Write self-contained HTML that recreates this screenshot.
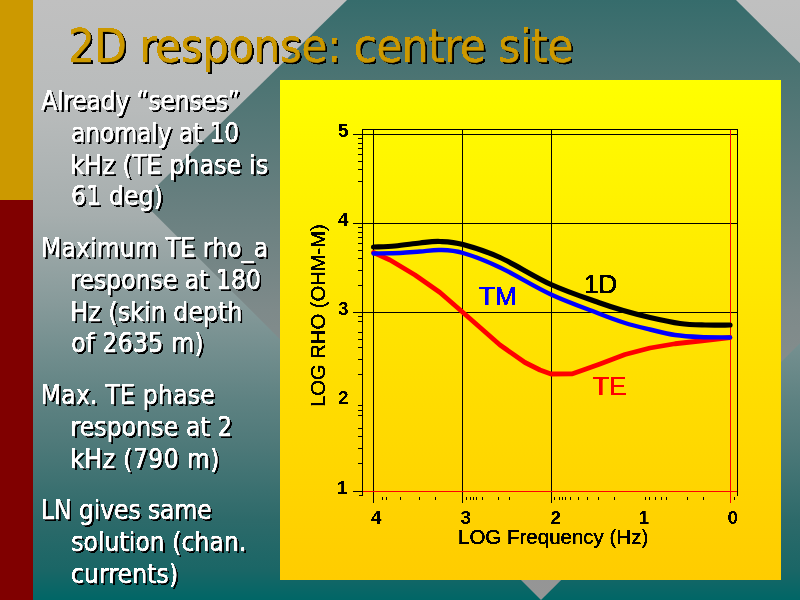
<!DOCTYPE html>
<html lang="en">
<head>
<meta charset="utf-8">
<title>2D response: centre site</title>
<style>
html,body{margin:0;padding:0;}
body{width:800px;height:600px;position:relative;overflow:hidden;background:#c0c0c0;}
#bg{position:absolute;left:33px;top:0;width:767px;height:600px;background:linear-gradient(to bottom,rgb(192,192,192) 0.00%,rgb(184,187,187) 18.33%,rgb(166,174,174) 35.83%,rgb(136,155,155) 50.00%,rgb(94,130,130) 66.67%,rgb(80,122,122) 73.33%,rgb(45,106,106) 86.67%,rgb(26,102,102) 95.00%,rgb(0,102,102) 100.00%);}
#diamond{position:absolute;left:0;top:0;width:800px;height:600px;}
#gold{position:absolute;left:0;top:0;width:33px;height:200px;background:#cc9900;}
#red{position:absolute;left:0;top:200px;width:33px;height:400px;background:#800000;}
#title{position:absolute;left:68.25px;top:17.60px;letter-spacing:-0.344px;margin:0;white-space:nowrap;font-family:"DejaVu Sans Condensed","DejaVu Sans",sans-serif;font-weight:normal;font-size:46.6px;line-height:56px;-webkit-text-stroke:0.5px #cc9900;color:#cc9900;text-shadow:2px 2px 0 #000;filter:url(#crisp);}
.ln{position:absolute;margin:0;white-space:nowrap;font-family:"DejaVu Sans Condensed","DejaVu Sans",sans-serif;font-size:26.2px;line-height:32px;height:32px;-webkit-text-stroke:0.45px #fff;color:#fff;text-shadow:2px 2px 0 #000;filter:url(#crisp);}
#chart{position:absolute;left:280px;top:80px;width:501px;height:500px;background:linear-gradient(to bottom,#ffff00 0%,#ffe300 50%,#ffcc00 100%);}
#chart svg{position:absolute;left:-280px;top:-80px;width:800px;height:600px;}
</style>
</head>
<body>
<div id="bg"></div>
<svg id="diamond" viewBox="0 0 800 600">
  <defs>
    <filter id="crisp" x="-2%" y="-10%" width="104%" height="120%" color-interpolation-filters="sRGB"><feComponentTransfer><feFuncA type="linear" slope="6" intercept="-2.5"/></feComponentTransfer></filter>
    <linearGradient id="dg" x1="0" y1="0" x2="0" y2="600" gradientUnits="userSpaceOnUse">
      <stop offset="0.0000" stop-color="rgb(54,108,108)"/>
      <stop offset="0.1333" stop-color="rgb(76,116,115)"/>
      <stop offset="0.3333" stop-color="rgb(103,127,127)"/>
      <stop offset="0.5167" stop-color="rgb(126,138,138)"/>
      <stop offset="0.7500" stop-color="rgb(141,145,145)"/>
      <stop offset="1.0000" stop-color="rgb(150,150,150)"/>
    </linearGradient>
  </defs>
  <polygon points="542.6,-191.4 941.3,203.2 541,600 141.6,201" fill="url(#dg)"/>
</svg>
<div id="gold"></div>
<div id="red"></div>

<h1 id="title">2D response: centre site</h1>

<p class="ln" id="l1" style="left:41.25px;top:85.00px;letter-spacing:-0.234px">Already “senses”</p>
<p class="ln" id="l2" style="left:71.00px;top:116.75px;letter-spacing:-0.167px">anomaly at 10</p>
<p class="ln" id="l3" style="left:70.50px;top:148.50px;letter-spacing:0.217px">kHz (TE phase is</p>
<p class="ln" id="l4" style="left:71.00px;top:180.25px;letter-spacing:0.166px">61 deg)</p>

<p class="ln" id="l5" style="left:41.00px;top:232.00px;letter-spacing:0.134px">Maximum TE rho_a</p>
<p class="ln" id="l6" style="left:70.50px;top:263.75px;letter-spacing:-0.012px">response at 180</p>
<p class="ln" id="l7" style="left:70.50px;top:295.50px;letter-spacing:0.131px">Hz (skin depth</p>
<p class="ln" id="l8" style="left:71.25px;top:327.25px;letter-spacing:0.313px">of 2635 m)</p>

<p class="ln" id="l9" style="left:40.75px;top:379.00px;letter-spacing:0.208px">Max. TE phase</p>
<p class="ln" id="l10" style="left:70.50px;top:410.75px;letter-spacing:0.104px">response at 2</p>
<p class="ln" id="l11" style="left:70.50px;top:442.50px;letter-spacing:0.400px">kHz (790 m)</p>

<p class="ln" id="l12" style="left:41.00px;top:494.25px;letter-spacing:-0.112px">LN gives same</p>
<p class="ln" id="l13" style="left:71.25px;top:526.00px;letter-spacing:0.035px">solution (chan.</p>
<p class="ln" id="l14" style="left:71.00px;top:557.75px;letter-spacing:0.094px">currents)</p>

<div id="chart">
<svg viewBox="0 0 800 600" shape-rendering="crispEdges">
  <g stroke="#000" stroke-width="1" fill="none">
    <!-- frame -->
    <path d="M362.5,496 V129.5 H737.5 V496"/>
    <!-- horizontal grid -->
    <path d="M353,134.5 H737.5 M353,223.5 H737.5 M353,312.5 H737.5 M353,491.5 H362 M359,495.5 H362.5"/>
    <!-- vertical grid -->
    <path d="M373.5,129.5 V502.5 M462.5,129.5 V502.5 M551.5,129.5 V502.5"/>
  </g>
  <g stroke="#ff0000" stroke-width="1" fill="none">
    <path d="M362.5,491.5 H737 M730.5,129.5 V502.5"/>
  </g>
  <g id="yticks" stroke="#000" stroke-width="1" fill="none"><path d="M358,138.5 H362.5 M358,143.5 H362.5 M358,148.5 H362.5 M358,154.5 H362.5 M358,161.5 H362.5 M358,169.5 H362.5 M358,181.5 H362.5 M358,227.5 H362.5 M358,232.5 H362.5 M358,237.5 H362.5 M358,243.5 H362.5 M358,250.5 H362.5 M358,258.5 H362.5 M358,270.5 H362.5 M358,285.5 H362.5 M358,316.5 H362.5 M358,321.5 H362.5 M358,332.5 H362.5 M358,339.5 H362.5 M358,347.5 H362.5 M358,359.5 H362.5 M358,374.5 H362.5 M358,405.5 H362.5 M358,410.5 H362.5 M358,415.5 H362.5 M358,428.5 H362.5 M358,436.5 H362.5 M358,448.5 H362.5 M358,463.5 H362.5"/></g>
  <g id="xticks" stroke="#000" stroke-width="1" fill="none"><path d="M382.5,497 V500 M386.5,497 V500 M400.5,497 V500 M419.5,497 V500 M435.5,497 V500 M466.5,497 V500 M470.5,497 V500 M473.5,497 V500 M476.5,497 V500 M482.5,497 V500 M498.5,497 V500 M509.5,497 V500 M554.5,497 V500 M559.5,497 V500 M562.5,497 V500 M565.5,497 V500 M570.5,497 V500 M578.5,497 V500 M587.5,497 V500 M598.5,497 V500 M614.5,497 V500 M645.5,497 V500 M649.5,497 V500 M655.5,497 V500 M661.5,497 V500 M666.5,497 V500 M687.5,497 V500 M703.5,497 V500 M734.5,497 V500"/></g>
  <g fill="none" stroke-linejoin="round" stroke-linecap="round" shape-rendering="auto">
    <path stroke="#ff0000" stroke-width="4.8" d="M373.5,252.5 L390,260 L415,275 L440,292.5 L463,312.5 L500,345 L525,362.5 L540,370 L551,374 L572.5,373.75 L586,369 L600,364 L625,354.5 L650,348 L675,343.75 L700,341 L730,337.5"/>
    <path stroke="#0000ff" stroke-width="4.4" d="M373.5,253.5 C377.9,253.4 392.2,253.3 400.0,253.0 C407.8,252.7 413.3,252.0 420.0,251.5 C426.7,251.0 432.8,249.8 440.0,250.0 C447.2,250.2 453.0,250.1 463.0,253.0 C473.0,255.9 485.3,260.6 500.0,267.5 C514.7,274.4 534.3,286.8 551.0,294.5 C567.7,302.2 587.7,309.2 600.0,314.0 C612.3,318.8 616.7,320.4 625.0,323.0 C633.3,325.6 641.7,327.5 650.0,329.5 C658.3,331.5 666.7,333.8 675.0,335.0 C683.3,336.2 690.8,336.6 700.0,337.0 C709.2,337.4 725.0,337.4 730.0,337.5"/>
    <path stroke="#000000" stroke-width="5.2" d="M373.5,247.0 C377.1,246.8 387.2,246.7 395.0,246.0 C402.8,245.3 412.5,243.8 420.0,243.0 C427.5,242.2 432.8,241.2 440.0,241.5 C447.2,241.8 453.0,241.8 463.0,244.5 C473.0,247.2 485.3,250.8 500.0,257.5 C514.7,264.2 534.3,276.9 551.0,284.5 C567.7,292.1 587.7,298.6 600.0,303.0 C612.3,307.4 616.7,308.6 625.0,311.0 C633.3,313.4 640.8,315.4 650.0,317.5 C659.2,319.6 670.8,322.2 680.0,323.5 C689.2,324.8 696.7,324.8 705.0,325.0 C713.3,325.2 725.8,325.0 730.0,325.0"/>
  </g>
  <g font-family="'Liberation Sans',sans-serif" shape-rendering="auto" filter="url(#crisp)">
    <g font-size="19" font-weight="bold" fill="#000">
      <text x="338" y="137">5</text>
      <text x="338" y="226">4</text>
      <text x="338" y="315">3</text>
      <text x="338" y="404">2</text>
      <text x="337" y="494">1</text>
      <text x="371" y="523.5">4</text>
      <text x="460.5" y="523.5">3</text>
      <text x="550.5" y="523.5">2</text>
      <text x="638.5" y="523.5">1</text>
      <text x="727.5" y="523.5">0</text>
    </g>
    <text x="458" y="543.5" font-size="20.5" fill="#000" stroke="#000" stroke-width="0.35">LOG Frequency (Hz)</text>
    <text transform="translate(324.8,407) rotate(-90)" font-size="20.2" fill="#000" stroke="#000" stroke-width="0.35">LOG RHO (OHM-M)</text>
    <text x="479" y="304.5" font-size="26" fill="#0000ff" stroke="#0000ff" stroke-width="0.6">TM</text>
    <text x="584" y="292.5" font-size="26" fill="#000" stroke="#000" stroke-width="0.6">1D</text>
    <text x="593" y="394.5" font-size="26" fill="#ff0000" stroke="#ff0000" stroke-width="0.6">TE</text>
  </g>
</svg>
</div>
</body>
</html>
